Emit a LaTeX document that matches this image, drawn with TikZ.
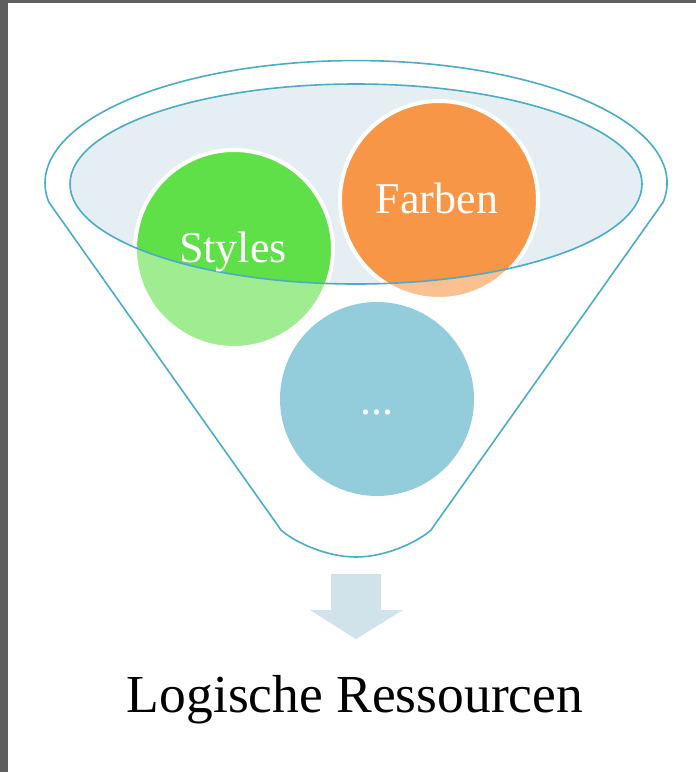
\documentclass[tikz,border=0pt]{standalone}
\usepackage{fontspec}
\setmainfont{Liberation Serif}
\definecolor{frame}{RGB}{95,95,95}
\definecolor{funnelline}{RGB}{75,172,198}
\definecolor{bowl}{RGB}{228,238,243}
\definecolor{cgreen}{RGB}{96,224,72}
\definecolor{corange}{RGB}{247,150,70}
\definecolor{cblue}{RGB}{75,172,198}
\definecolor{arrowfill}{RGB}{208,227,234}
\tikzset{
  ball/.style={circle, minimum size=198pt, inner sep=0pt, draw=white, line width=4pt},
  balltext/.style={text=white, font=\fontsize{44}{44}\selectfont, anchor=base, inner sep=0pt},
  funnelstroke/.style={draw=funnelline, line width=1.6pt, line join=round},
}
\begin{document}
\begin{tikzpicture}[x=1pt,y=-1pt]
\useasboundingbox (0,0) rectangle (696,772);
\fill[white] (0,0) rectangle (696,772);
\fill[frame] (0,0) rectangle (7.5,772);
\fill[frame] (0,0) rectangle (696,3);
% funnel body
\def\funnelpath{(48.74,202) -- (281,530) .. controls (293,541) and (325,557) .. (356,557) .. controls (387,557) and (419,541) .. (431,530) -- (663.26,202) arc[start angle=8.9, end angle=-188.9, x radius=311, y radius=122.5] -- cycle}
\fill[white] \funnelpath;
\fill[bowl] (356,184) ellipse[x radius=286, y radius=100];
% balls
\node[ball, fill=cgreen] (styles) at (234,249) {};
\node[ball, fill=corange] (farben) at (439,200) {};
\node[ball, fill=cblue, draw=none, minimum size=194pt] (more) at (377,399) {};
% translucent lower body
\fill[white, fill opacity=0.4, even odd rule] \funnelpath (356,184) ellipse[x radius=286, y radius=100];
% strokes
\draw[funnelstroke] \funnelpath;
\draw[funnelstroke] (356,184) ellipse[x radius=286, y radius=100];
% labels
\node[balltext] (stylestext) at (233,262) {Styles};
\node[balltext] (farbentext) at (437,213) {Farben};
\node[balltext] (moretext) at (377,414) {...};
% arrow
\fill[arrowfill] (331,574) -- (381,574) -- (381,610) -- (403,610) -- (356,639) -- (310,610) -- (331,610) -- cycle;
\node[anchor=base, inner sep=0pt, font=\fontsize{53.5}{54}\selectfont] (result) at (355,712) {Logische Ressourcen};
\end{tikzpicture}
\end{document}
